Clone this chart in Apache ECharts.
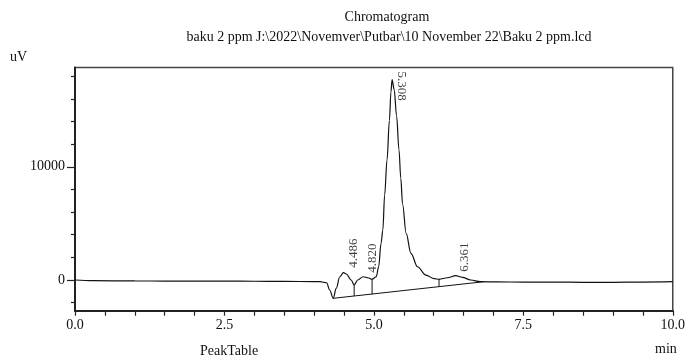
<!DOCTYPE html>
<html><head><meta charset="utf-8">
<script src="https://cdn.jsdelivr.net/npm/echarts@6/dist/echarts.min.js"></script>
<style>html,body{margin:0;padding:0;background:#fff}#c{width:688px;height:360px}</style>
</head><body><div id="c"></div>
<script>
// Chromatogram trace (time in min, signal in uV)
const times = [0, 0.3, 1.0, 1.5, 2.0, 2.5, 3.0, 3.5, 4.0, 4.1, 4.21, 4.26, 4.32, 4.37, 4.43, 4.49, 4.54, 4.62, 4.67, 4.73, 4.82, 4.90, 4.97, 5.04, 5.08, 5.12, 5.15, 5.18, 5.22, 5.26, 5.285, 5.305, 5.34, 5.38, 5.42, 5.45, 5.48, 5.54, 5.62, 5.73, 5.87, 6.01, 6.09, 6.23, 6.37, 6.48, 6.62, 6.78, 7.06, 7.5, 8.0, 8.5, 9.0, 9.5, 10.0];
const signal = [0, -60, -80, -90, -100, -100, -110, -120, -140, -150, -240, -880, -1615, -730, 290, 645, 530, 0, -440, 0, 290, 200, 60, 290, 1170, 3240, 4410, 7500, 10600, 14100, 16600, 17710, 16800, 14500, 11500, 9000, 6700, 4120, 2360, 1170, 440, 115, 60, 200, 380, 240, 0, -150, -170, -180, -190, -200, -200, -180, -150];
// Peaks
const peakTimes = [4.486, 4.820, 5.308, 6.361];
const peakHeights = [650, 290, 17710, 380];
const peakNames = ['4.486', '4.820', '5.308', '6.361'];
// Integration baseline and drop lines
const baselineTimes = [4.32, 6.84];
const baselineValues = [-1615, -150];
const dropTimes = [4.67, 4.97, 6.09];
const dropTop = [-440, 60, 60];
const dropBottom = [-1410, -1260, -590];
// Axis ticks
const xTickValues = [0, 2.5, 5, 7.5, 10];
const yMajorTicks = [0, 10000];
const yMinorTicks = [-2000, 2000, 4000, 6000, 8000, 12000, 14000, 16000, 18000];

const FONT = 'Liberation Serif';
const labelRot = [90, 90, -90, 90];
// offsets are in the label's rotated frame
const labelOff = [[5, 10], [4, 9], [-8, -9.5], [4, 9]];

const series = [];
series.push({
  type: 'line', name: 'signal', data: times.map((t, i) => [t, signal[i]]),
  showSymbol: false, smooth: 0.35, smoothMonotone: 'x',
  lineStyle: { color: '#111', width: 1.2 }, z: 5, silent: true
});
series.push({
  type: 'line', name: 'baseline', data: baselineTimes.map((t, i) => [t, baselineValues[i]]),
  showSymbol: false, lineStyle: { color: '#111', width: 1 }, silent: true
});
dropTimes.forEach((t, i) => {
  series.push({
    type: 'line', data: [[t, dropTop[i]], [t, dropBottom[i]]],
    showSymbol: false, lineStyle: { color: '#111', width: 1 }, silent: true
  });
});
series.push({
  type: 'scatter', name: 'peaks', symbolSize: 1, itemStyle: { color: 'rgba(0,0,0,0)' },
  data: peakTimes.map((t, i) => ({
    value: [t, peakHeights[i]],
    label: {
      show: true, formatter: peakNames[i], position: 'inside',
      rotate: labelRot[i], offset: labelOff[i], align: 'left', verticalAlign: 'middle',
      fontFamily: FONT, fontSize: 13, color: '#111'
    }
  })), z: 6, silent: true
});

const chart = echarts.init(document.getElementById('c'), null, { renderer: 'canvas' });
chart.setOption({
  animation: false,
  backgroundColor: '#fff',
  title: [
    { text: 'Chromatogram', left: 387, top: 10, textAlign: 'center', padding: 0,
      textStyle: { fontFamily: FONT, fontSize: 14, fontWeight: 'normal', color: '#111' } },
    { text: 'baku 2 ppm J:\\2022\\Novemver\\Putbar\\10 November 22\\Baku 2 ppm.lcd', left: 389, top: 30, textAlign: 'center', padding: 0,
      textStyle: { fontFamily: FONT, fontSize: 14, fontWeight: 'normal', color: '#111' } }
  ],
  grid: { left: 75, right: 11.5, top: 67.5, bottom: 49.3, show: true, borderColor: '#444', borderWidth: 1.5, containLabel: false },
  xAxis: {
    type: 'value', min: 0, max: 10, interval: 0.5,
    axisLine: { show: true, onZero: false, lineStyle: { color: '#222', width: 2 } },
    axisTick: { show: true, length: 5, lineStyle: { color: '#222', width: 1.2 } },
    axisLabel: { customValues: xTickValues, formatter: v => v.toFixed(1), fontFamily: FONT, fontSize: 14, color: '#111', margin: 8 },
    splitLine: { show: false }
  },
  yAxis: [
    { type: 'value', min: -2710, max: 18770, position: 'left',
      axisLine: { show: true, onZero: false, lineStyle: { color: '#222', width: 2 } },
      axisTick: { show: true, customValues: yMajorTicks, length: 8, lineStyle: { color: '#222', width: 1.2 } },
      axisLabel: { customValues: yMajorTicks, formatter: v => String(v), fontFamily: FONT, fontSize: 14, color: '#111', margin: 10 },
      splitLine: { show: false } },
    { type: 'value', min: -2710, max: 18770, position: 'left',
      axisLine: { show: false },
      axisTick: { show: true, customValues: yMinorTicks, length: 4, lineStyle: { color: '#222', width: 1.2 } },
      axisLabel: { show: false },
      splitLine: { show: false } }
  ],
  graphic: [
    { type: 'text', left: 10, top: 50, style: { text: 'uV', font: '14px "Liberation Serif"', fill: '#111' } },
    { type: 'text', left: 655, top: 342, style: { text: 'min', font: '14px "Liberation Serif"', fill: '#111' } },
    { type: 'text', left: 200, top: 344, style: { text: 'PeakTable', font: '14px "Liberation Serif"', fill: '#111' } }
  ],
  series: series
});
</script>
</body></html>
